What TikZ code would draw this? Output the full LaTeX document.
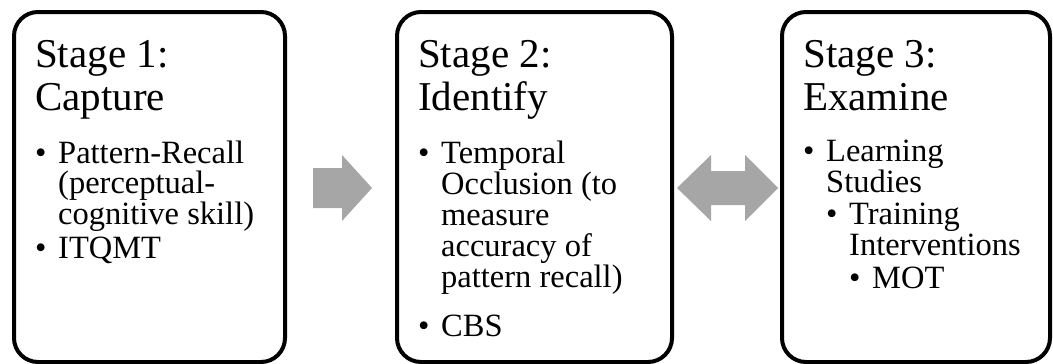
\documentclass[tikz,border=0pt]{standalone}
\usepackage{fontspec}
\setmainfont{Liberation Serif}
\definecolor{arrowgray}{HTML}{A6A6A6}
\tikzset{
  stagebox/.style={draw=black, line width=4pt, rounded corners=24pt, inner sep=0pt, minimum height=350pt},
  ttl/.style={anchor=base west, inner sep=0pt, font=\fontsize{41}{43}\selectfont},
  itm/.style={anchor=base west, inner sep=0pt, font=\fontsize{32.5}{30}\selectfont},
  blockarrow/.style={fill=arrowgray, draw=none}
}
\begin{document}
\begin{tikzpicture}[x=1pt,y=-1pt]
\useasboundingbox (0,0) rectangle (1053,364);
% boxes
\node[stagebox, minimum width=271pt] (s1) at (149.5,187) {};
\node[stagebox, minimum width=275pt] (s2) at (534.5,187) {};
\node[stagebox, minimum width=268pt] (s3) at (916,187) {};
% arrows
\fill[blockarrow] (313,168) -- (342,168) -- (342,155) -- (372,188) -- (342,221) -- (342,208) -- (313,208) -- cycle;
\fill[blockarrow] (677,188) -- (711,155) -- (711,171) -- (745,171) -- (745,155) -- (778,188) -- (745,221) -- (745,205) -- (711,205) -- (711,221) -- cycle;
% stage 1
\node[ttl] (t1a) at (35,67) {Stage 1:};
\node[ttl] (t1b) at (35,110) {Capture};
\node[itm] (p1) at (35,163) {•};
\node[itm] (l1a) at (58,163) {Pattern-Recall};
\node[itm] (l1b) at (58,193) {(perceptual-};
\node[itm] (l1c) at (58,224) {cognitive skill)};
\node[itm] (p2) at (35,258) {•};
\node[itm] (l1d) at (58,258) {ITQMT};
% stage 2
\node[ttl] (t2a) at (418,67) {Stage 2:};
\node[ttl] (t2b) at (418,110) {Identify};
\node[itm] (p3) at (418,163) {•};
\node[itm] (l2a) at (441,163) {Temporal};
\node[itm] (l2b) at (441,194) {Occlusion (to};
\node[itm] (l2c) at (441,225) {measure};
\node[itm] (l2d) at (441,256) {accuracy of};
\node[itm] (l2e) at (441,287) {pattern recall)};
\node[itm] (p4) at (418,336) {•};
\node[itm] (l2f) at (441,336) {CBS};
% stage 3
\node[ttl] (t3a) at (803,67) {Stage 3:};
\node[ttl] (t3b) at (803,110) {Examine};
\node[itm] (p5) at (803,161) {•};
\node[itm] (l3a) at (826,161) {Learning};
\node[itm] (l3b) at (826,192) {Studies};
\node[itm] (p6) at (826,224) {•};
\node[itm] (l3c) at (849,224) {Training};
\node[itm] (l3d) at (849,255) {Interventions};
\node[itm] (p7) at (849,288) {•};
\node[itm] (l3e) at (872,288) {MOT};
\end{tikzpicture}
\end{document}
